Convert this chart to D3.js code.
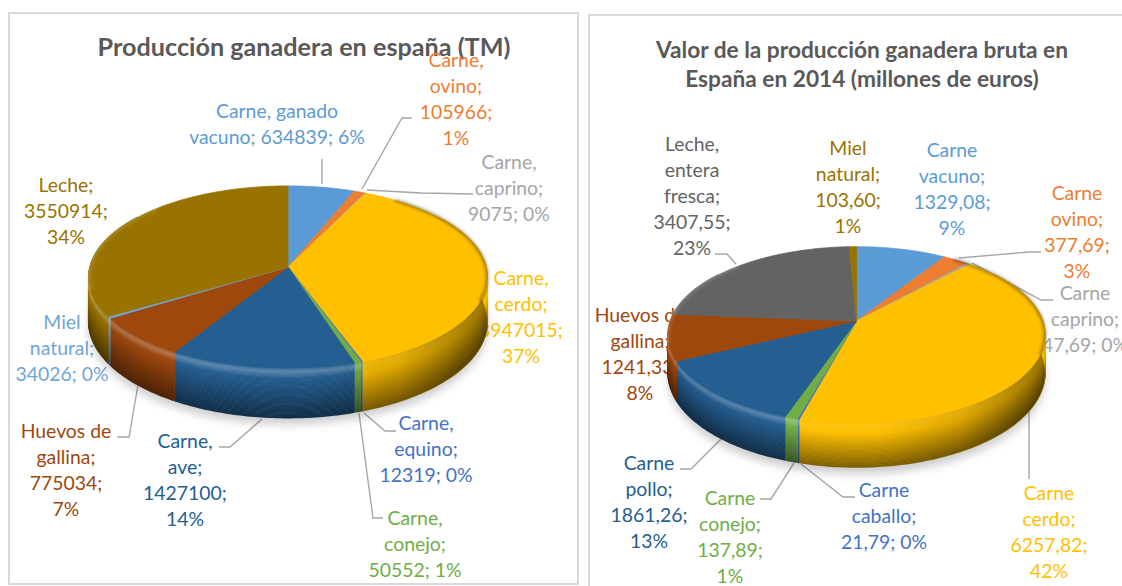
<!DOCTYPE html>
<html><head><meta charset="utf-8">
<script src="https://cdn.jsdelivr.net/npm/d3@7"></script>
<style>html,body{margin:0;padding:0;background:#fff;overflow:hidden}svg{display:block}text{font-family:Lato,Carlito,sans-serif}</style>
</head><body><svg id="c" width="1122" height="586"></svg>
<script>
// ---------- data ----------
const leftTitle = ["Producción ganadera en españa (TM)"];
const leftNames = ["Carne, ganado vacuno","Carne, ovino","Carne, caprino","Carne, cerdo","Carne, equino","Carne, conejo","Carne, ave","Huevos de gallina","Miel natural","Leche"];
const leftValues = [634839,105966,9075,3947015,12319,50552,1427100,775034,34026,3550914];
const leftColors = ["#5B9BD5","#ED7D31","#A5A5A5","#FFC000","#4472C4","#70AD47","#255E91","#9E480E","#6FA5D8","#997300"];
const leftLabels = [
 ["Carne, ganado","vacuno; 634839; 6%"],["Carne,","ovino;","105966;","1%"],["Carne,","caprino;","9075; 0%"],
 ["Carne,","cerdo;","3947015;","37%"],["Carne,","equino;","12319; 0%"],["Carne,","conejo;","50552; 1%"],
 ["Carne,","ave;","1427100;","14%"],["Huevos de","gallina;","775034;","7%"],["Miel","natural;","34026; 0%"],["Leche;","3550914;","34%"]];
const rightTitle = ["Valor de la producción ganadera bruta en","España en 2014 (millones de euros)"];
const rightNames = ["Carne vacuno","Carne ovino","Carne caprino","Carne cerdo","Carne caballo","Carne conejo","Carne pollo","Huevos de gallina","Leche, entera fresca","Miel natural"];
const rightValues = [1329.08,377.69,47.69,6257.82,21.79,137.89,1861.26,1241.33,3407.55,103.60];
const rightColors = ["#5B9BD5","#ED7D31","#A5A5A5","#FFC000","#4472C4","#70AD47","#255E91","#9E480E","#636363","#997300"];
const rightLabels = [
 ["Carne","vacuno;","1329,08;","9%"],["Carne","ovino;","377,69;","3%"],["Carne","caprino;","47,69; 0%"],
 ["Carne","cerdo;","6257,82;","42%"],["Carne","caballo;","21,79; 0%"],["Carne","conejo;","137,89;","1%"],
 ["Carne","pollo;","1861,26;","13%"],["Huevos de","gallina;","1241,33;","8%"],["Leche,","entera","fresca;","3407,55;","23%"],["Miel","natural;","103,60;","1%"]];
// ---------- layout ----------
const leftLayout = {cx:288,cy:267,rx:198,ry:90,k:0.11,depth:44,titleX:304,titleY:[47],titleSize:25.2,
 labelAt:[[277,111],[456,60],[509,162],[521,278],[426,423],[415,518],[185,441],[66,431],[62,322],[66,185]],
 leaders:[[[322,159],[322,184]],[[412,118],[402,118],[362,189]],[[473,194],[421,193],[367,190]],
  [[383,518],[373,518],[359,413]],[[396,431],[385,431],[364,413]],[[219,447],[230,447],[262,419]],[[117,437],[129,437],[138,385]]]};
const rightLayout = {cx:856.5,cy:321,rx:186,ry:86,k:0.157,depth:37,titleX:862,titleY:[50,79],titleSize:22.7,
 labelAt:[[952,150],[1077,193],[1085,293],[1049,493],[884,490],[730,498],[649,463],[640,315],[692,144],[848,148]],
 leaders:[[[715,254],[727,254],[736,264]],[[1041,252],[1029,252],[959,258]],[[1053,300],[1041,300],[972,263]],
  [[1029,409],[1029,479]],[[855,497],[843,497],[801,464]],[[760,499],[771,499],[794,463]],[[680,469],[691,469],[721,439]]]};

const svg = d3.select("#c");
const defs = svg.append("defs");
defs.append("filter").attr("id","soft").attr("x","-20%").attr("y","-20%").attr("width","140%").attr("height","140%")
  .append("feGaussianBlur").attr("stdDeviation",5);
defs.append("filter").attr("id","rimblur").attr("x","-20%").attr("y","-20%").attr("width","140%").attr("height","140%")
  .append("feGaussianBlur").attr("stdDeviation",1.5);
const sg = defs.append("linearGradient").attr("id","sideShade");
[[0,.05],[.3,0],[.55,0],[.78,.12],[1,.4]].forEach(([o,a])=>sg.append("stop").attr("offset",o).attr("stop-color","#000").attr("stop-opacity",a));

svg.append("rect").attr("x",9).attr("y",13).attr("width",569).attr("height",571).attr("fill","#fff").attr("stroke","#D9D9D9").attr("stroke-width",2);
svg.append("rect").attr("x",589).attr("y",15).attr("width",600).attr("height",600).attr("fill","#fff").attr("stroke","#D9D9D9").attr("stroke-width",2);

function drawPie(idx, title, values, colors, labels, L){
  const g = svg.append("g");
  const project = (a,r=1,dy=0)=>{
    const x=Math.sin(a)*r, y=-Math.cos(a)*r, s=1/(1-L.k*y);
    return [L.cx+L.rx*x*s, L.cy+L.ry*y*s+dy*(1/(1-L.k*y))];
  };
  const line=d3.line();
  const arcPts=(a0,a1,dy=0)=>{const n=Math.max(2,Math.ceil((a1-a0)*60));return d3.range(n+1).map(i=>project(a0+(a1-a0)*i/n,1,dy));};
  const TAU=2*Math.PI;
  // title
  title.forEach((t,i)=>g.append("text").attr("x",L.titleX).attr("y",L.titleY[i]).attr("dy","0.35em").attr("text-anchor","middle")
    .attr("font-size",L.titleSize).attr("font-weight",700).attr("fill","#595959").text(t));
  // labels & leaders sit below the pie
  L.leaders.forEach(p=>g.append("path").attr("d",line(p)).attr("fill","none").attr("stroke","#A6A6A6").attr("stroke-width",1.4));
  labels.forEach((lines,i)=>lines.forEach((t,j)=>g.append("text").attr("x",L.labelAt[i][0]).attr("y",L.labelAt[i][1]+j*26).attr("dy","0.35em")
    .attr("text-anchor","middle").attr("font-size",19.4).attr("fill",colors[i]).text(t)));
  // shadow
  g.append("path").attr("d",line(arcPts(0,TAU,L.depth+6))+"Z").attr("fill","#000").attr("opacity",.2).attr("filter","url(#soft)");
  const arcs=d3.pie().sort(null)(values);
  // side walls: rows shaded from rim to base
  const vis0=Math.PI*0.3, vis1=Math.PI*1.7;
  arcs.forEach((d,i)=>{
    const a0=Math.max(d.startAngle,vis0), a1=Math.min(d.endAngle,vis1);
    if(a1<=a0) return;
    const base=d3.color(colors[i]);
    for(let r=L.depth;r>=0;r--){
      const t=r/L.depth;
      let col;
      if(t<0.22){
        const h=0.25*Math.max(0,1-Math.abs(t-0.07)/0.13);
        col=d3.interpolateRgb(base,"#fff")(i===3?h*.25:h);
      } else {
        col=d3.interpolateRgb(base,"#000")((t-0.22)/0.78*0.5);
      }
      g.append("path").attr("d",line(arcPts(a0,a1,r))).attr("fill","none").attr("stroke",col).attr("stroke-width",1.7);
    }
  });
  // horizontal darkening on the wall
  const top=arcPts(vis0,vis1,0), bot=arcPts(vis0,vis1,L.depth).reverse();
  const xs=top.map(p=>p[0]);
  const gid="sideShade"+idx;
  defs.append("linearGradient").attr("id",gid).attr("gradientUnits","userSpaceOnUse")
    .attr("x1",d3.min(xs)).attr("x2",d3.max(xs)).attr("y1",0).attr("y2",0).attr("href","#sideShade");
  g.append("path").attr("d",line(top.concat(bot))+"Z").attr("fill",`url(#${gid})`);
  // top face
  const apex=[L.cx,L.cy];
  arcs.forEach((d,i)=>{
    g.append("path").attr("d",line([apex].concat(arcPts(d.startAngle,d.endAngle)))+"Z").attr("fill",colors[i]).attr("stroke",colors[i]).attr("stroke-width",.8);
  });
  // rim darkening at the right, light rim at the upper left
  g.append("path").attr("d",line(arcPts(Math.PI*.2,Math.PI*.62))).attr("fill","none").attr("stroke","#000").attr("stroke-opacity",.35).attr("stroke-width",3).attr("filter","url(#rimblur)");
  g.append("path").attr("d",line(arcPts(Math.PI*1.42,Math.PI*1.75))).attr("fill","none").attr("stroke","#fff").attr("stroke-opacity",.18).attr("stroke-width",3).attr("filter","url(#rimblur)");
}
drawPie(0,leftTitle,leftValues,leftColors,leftLabels,leftLayout);
drawPie(1,rightTitle,rightValues,rightColors,rightLabels,rightLayout);
</script></body></html>
